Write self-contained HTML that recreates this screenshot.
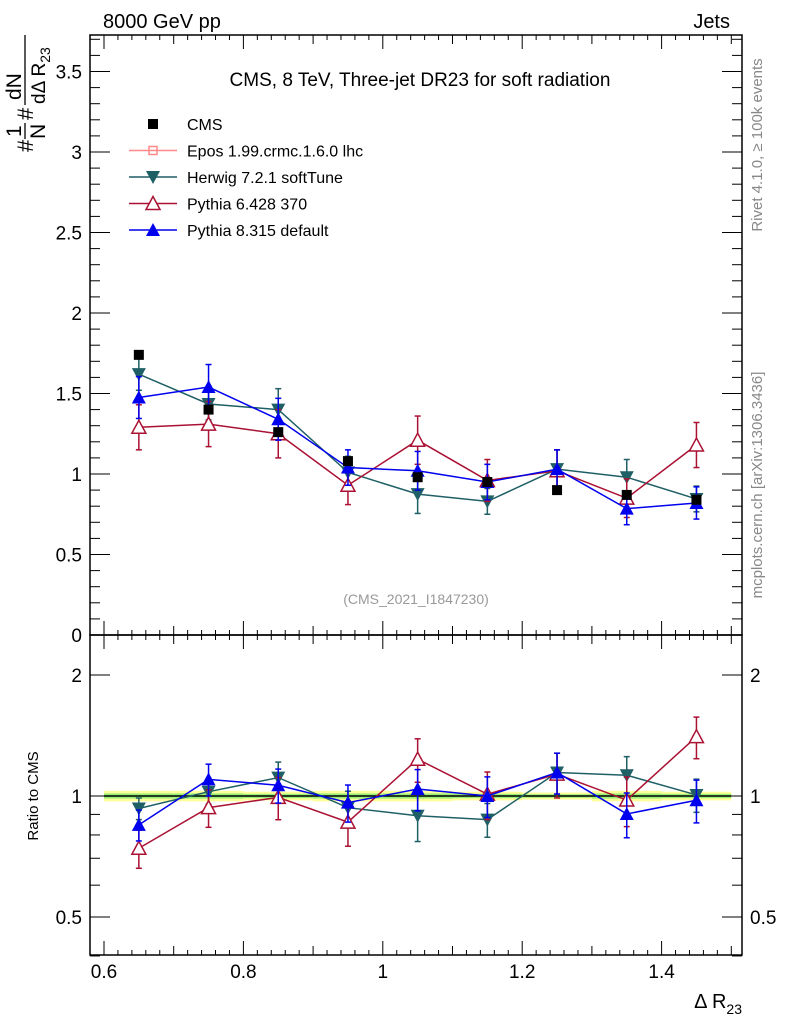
<!DOCTYPE html>
<html><head><meta charset="utf-8"><style>
body{margin:0;background:#fff;}
svg{font-family:"Liberation Sans",sans-serif;}
</style></head><body>
<svg id="c" width="786" height="1024" xmlns="http://www.w3.org/2000/svg"></svg>
<script>
const categories=[0.65,0.75,0.85,0.95,1.05,1.15,1.25,1.35,1.45];
const cmsValues=[1.74,1.40,1.26,1.08,0.98,0.95,0.90,0.87,0.84];
const herwigValues=[1.62,1.435,1.40,1.01,0.875,0.83,1.03,0.98,0.845];
const herwigErr=[0.10,0.10,0.13,0.10,0.12,0.08,0.12,0.11,0.08];
const py6Values=[1.29,1.31,1.25,0.93,1.21,0.96,1.02,0.85,1.18];
const py6Err=[0.14,0.14,0.15,0.12,0.15,0.13,0.13,0.12,0.14];
const py8Values=[1.475,1.54,1.34,1.04,1.02,0.95,1.03,0.785,0.82];
const py8Err=[0.13,0.14,0.13,0.11,0.12,0.11,0.12,0.1,0.1];
const cmsBand=[0.03,0.03,0.025,0.03,0.03,0.025,0.02,0.03,0.025];
const xTicks=[0.6,0.8,1,1.2,1.4];
const yTicks=[0,0.5,1,1.5,2,2.5,3,3.5];
const rTicks=[0.5,1,2];

const L=90,R=742,T=35,M=635,B=955;
const X=v=>104+(v-0.6)*697;
const Y=v=>635-v*161;
const YR=v=>796-Math.log2(v)*121;
const svg=document.getElementById('c');
const NS='http://www.w3.org/2000/svg';
function el(tag,attrs,parent){const e=document.createElementNS(NS,tag);for(const k in attrs)e.setAttribute(k,attrs[k]);(parent||svg).appendChild(e);return e;}
function txt(s,attrs,parent){const e=el('text',attrs,parent);e.textContent=s;return e;}

let f=el('rect',{x:L,y:T,width:R-L,height:M-T,fill:'none',stroke:'#000','stroke-width':1.5});

f=el('rect',{x:L,y:M,width:R-L,height:B-M,fill:'none',stroke:'#000','stroke-width':1.5});


for(let v=0.58;v<=1.52;v+=0.02){const vv=Math.round(v*100)/100;const maj=xTicks.some(t=>Math.abs(t-vv)<1e-6);const len=maj?14:(Math.abs(Math.round(vv*20)-vv*20)<1e-6?9:5);const x=X(vv);if(x<L||x>R)continue;
 el('line',{x1:x,y1:M,x2:x,y2:M-len,stroke:'#000'});el('line',{x1:x,y1:T,x2:x,y2:T+len,stroke:'#000'});
 el('line',{x1:x,y1:B,x2:x,y2:B-len,stroke:'#000'});el('line',{x1:x,y1:M,x2:x,y2:M+len,stroke:'#000'});}
xTicks.forEach(t=>{const e=txt(String(t),{x:X(t),y:978,'font-size':19,'text-anchor':'middle'});});
let xt=txt('',{x:742,y:1008,'font-size':20,'text-anchor':'end'});xt.innerHTML='Δ R<tspan font-size="14" dy="6">23</tspan>';


for(let i=0;i<=37;i++){const v=i/10;const y=Y(v);if(y<T)continue;const maj=i%5===0;const len=maj?20:10;
 el('line',{x1:L,y1:y,x2:L+len,y2:y,stroke:'#000'});el('line',{x1:R,y1:y,x2:R-len,y2:y,stroke:'#000'});}
yTicks.forEach(t=>{const e=txt(String(t),{x:82,y:Y(t)+7,'font-size':19,'text-anchor':'end'});});
[0.4,0.5,0.6,0.7,0.8,0.9,1,2].forEach(v=>{const y=YR(v);const maj=rTicks.includes(v);const len=maj?20:10;el('line',{x1:L,y1:y,x2:L+len,y2:y,stroke:'#000'});el('line',{x1:R,y1:y,x2:R-len,y2:y,stroke:'#000'});});
rTicks.forEach(t=>{let e=txt(String(t),{x:82,y:YR(t)+7,'font-size':19,'text-anchor':'end'});
 e=txt(String(t),{x:750,y:YR(t)+7,'font-size':19});});

// y title main (rotated)
let yt=el('g',{transform:'translate(25,152) rotate(-90)'});
txt('#',{x:0,y:8,'font-size':22},yt);
txt('1',{x:15,y:-4,'font-size':21},yt);txt('N',{x:13,y:20,'font-size':21},yt);el('line',{x1:13,y1:0,x2:29,y2:0,stroke:'#000','stroke-width':1.3},yt);
txt('#',{x:32,y:8,'font-size':22},yt);
txt('dN',{x:52,y:-4,'font-size':21},yt);el('line',{x1:47,y1:0,x2:117,y2:0,stroke:'#000','stroke-width':1.3},yt);
let dd=txt('',{x:48,y:20,'font-size':19},yt);dd.innerHTML='dΔ R<tspan font-size="14" dy="5">23</tspan>';
let rt=txt('Ratio to CMS',{x:0,y:0,'font-size':15,'text-anchor':'middle',transform:'translate(38,796) rotate(-90)'});

let t1=txt('8000 GeV pp',{x:103,y:28,'font-size':20});
let t2=txt('Jets',{x:730,y:28,'font-size':20,'text-anchor':'end'});
let t3=txt('CMS, 8 TeV, Three-jet DR23 for soft radiation',{x:420,y:86,'font-size':19,'text-anchor':'middle'});
let t4=txt('(CMS_2021_I1847230)',{x:416,y:604,'font-size':14,'text-anchor':'middle',fill:'#999'});
let t5=txt('Rivet 4.1.0, ≥ 100k events',{x:0,y:0,'font-size':15,'text-anchor':'middle',fill:'#888',transform:'translate(762,145) rotate(-90)'});
let t6=txt('mcplots.cern.ch [arXiv:1306.3436]',{x:0,y:0,'font-size':15,'text-anchor':'middle',fill:'#888',transform:'translate(762,485) rotate(-90)'});

const hw=0.05;
categories.forEach((c,i)=>{const b=cmsBand[i];
 let r=el('rect',{x:X(c-hw),y:YR(1+b),width:X(c+hw)-X(c-hw),height:YR(1-b)-YR(1+b),fill:'#ffff99'});
 r=el('rect',{x:X(c-hw),y:YR(1+b/2),width:X(c+hw)-X(c-hw),height:YR(1-b/2)-YR(1+b/2),fill:'#99ee77'});});
el('line',{x1:X(0.6),y1:YR(1),x2:X(1.5),y2:YR(1),stroke:'#000','stroke-width':1.5});

function marker(kind,x,y,col,g){
 if(kind==='down')return el('path',{d:`M${x-7},${y-6}L${x+7},${y-6}L${x},${y+7}Z`,fill:col},g);
 if(kind==='up')return el('path',{d:`M${x-7},${y+6}L${x+7},${y+6}L${x},${y-7}Z`,fill:col},g);
 if(kind==='upopen')return el('path',{d:`M${x-7},${y+6}L${x+7},${y+6}L${x},${y-7}Z`,fill:'#fff',stroke:col,'stroke-width':1.5},g);
}
function series(name,vals,errs,col,kind){
 [[Y,v=>v,'main'],[YR,(v,i)=>v/cmsValues[i],'ratio']].forEach(([fy,tr,pan])=>{
  const g=el('g',{});
  const pts=vals.map((v,i)=>[X(categories[i]),fy(tr(v,i))]);
  el('polyline',{points:pts.map(p=>p.join(',')).join(' '),fill:'none',stroke:col,'stroke-width':1.5},g);
  vals.forEach((v,i)=>{const x=X(categories[i]);const lo=fy(tr(v-errs[i],i)),hi=fy(tr(v+errs[i],i));
   el('line',{x1:x,y1:lo,x2:x,y2:hi,stroke:col,'stroke-width':1.5},g);
   el('line',{x1:x-3,y1:lo,x2:x+3,y2:lo,stroke:col,'stroke-width':1.5},g);el('line',{x1:x-3,y1:hi,x2:x+3,y2:hi,stroke:col,'stroke-width':1.5},g);
   const m=marker(kind,x,fy(tr(v,i)),col,g);});
 });
}
series('herwig',herwigValues,herwigErr,'#1f5f66','down');
series('pythia6',py6Values,py6Err,'#aa1133','upopen');
series('pythia8',py8Values,py8Err,'#0000ee','up');
const cg=el('g',{});
cmsValues.forEach((v,i)=>{const r=el('rect',{x:X(categories[i])-5,y:Y(v)-5,width:10,height:10,fill:'#000'},cg);});

const lg=el('g',{});
const items=[['CMS','#000','sq'],['Epos 1.99.crmc.1.6.0 lhc','#ff8888','cross'],['Herwig 7.2.1 softTune','#1f5f66','down'],['Pythia 6.428 370','#aa1133','upopen'],['Pythia 8.315 default','#0000ee','up']];
items.forEach((it,i)=>{const y=124+i*26.5;const g=el('g',{},lg);
 if(it[2]==='sq')el('rect',{x:148,y:y-5,width:10,height:10,fill:'#000'},g);
 else{el('line',{x1:129,y1:y,x2:177,y2:y,stroke:it[1],'stroke-width':1.5},g);
  if(it[2]==='cross'){el('rect',{x:149,y:y-4,width:8,height:8,fill:'none',stroke:it[1],'stroke-width':1.5},g);}
  else marker(it[2],153,y,it[1],g);}
 txt(it[0],{x:187,y:y+6,'font-size':16},g);});
</script>
</body></html>
